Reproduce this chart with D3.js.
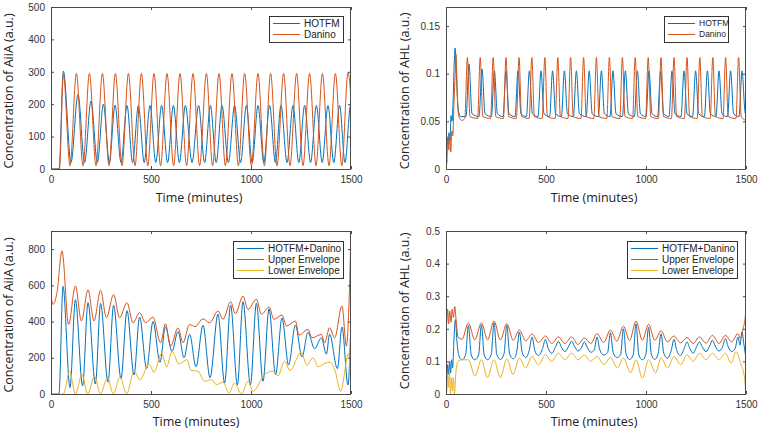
<!DOCTYPE html>
<html>
<head>
<meta charset="utf-8">
<script src="https://cdn.jsdelivr.net/npm/d3@7"></script>
<style>
  body { margin: 0; background: #fff; }
  svg { display: block; }
</style>
</head>
<body>
<svg width="760" height="431"></svg>
<script>
// x axis is the same everywhere
const timeTicks = [0, 500, 1000, 1500];

// top left: AiiA, single models  [minutes, a.u.]
const aiiaHotfm = [[0,0],[40,0],[62,302],[100,20],[135,230],[168,20],[200,210],[232,20],[262,200],[292,20],[320,197],[350,20],[380,196],[408,20],[437,196],[466,20],[495,196],[524,20],[553,196],[583,20],[612,196],[642,20],[672,196],[705,20],[738,196],[768,20],[797,196],[826,20],[855,196],[887,20],[918,196],[948,20],[977,196],[1006,20],[1035,196],[1064,20],[1093,196],[1122,20],[1150,196],[1180,20],[1210,196],[1239,20],[1268,196],[1298,20],[1327,196],[1356,20],[1385,196],[1414,20],[1443,196],[1470,20],[1498,196],[1500,195]];
const aiiaDanino = [[0,0],[42,0],[62,292],[95,10],[127,295],[160,10],[192,295],[225,10],[257,295],[290,10],[322,295],[355,10],[387,295],[420,10],[452,295],[484,10],[515,295],[548,10],[580,295],[613,10],[645,295],[678,10],[710,295],[743,10],[777,295],[808,10],[840,295],[872,10],[905,295],[937,10],[968,295],[1002,10],[1035,295],[1067,10],[1098,295],[1130,10],[1163,295],[1195,10],[1228,295],[1260,10],[1293,295],[1325,10],[1357,295],[1390,10],[1422,295],[1454,10],[1485,298],[1500,220]];

// top right: AHL, single models
const ahlHotfm = [[0,0.02],[5,0.034],[10,0.026],[15,0.038],[20,0.03],[25,0.056],[30,0.05],[36,0.075],[41,0.11],[46,0.127],[52,0.1],[60,0.065],[72,0.055],
  [100,0.055],[115,0.11],[130,0.058],[165,0.055],[180,0.105],[195,0.058],[227,0.055],[242,0.103],[257,0.058],[285,0.055],[300,0.103],[315,0.058],
  [345,0.055],[360,0.103],[375,0.058],[402,0.055],[417,0.103],[432,0.058],[460,0.055],[475,0.103],[490,0.058],[518,0.055],[533,0.103],[548,0.058],
  [577,0.055],[592,0.103],[607,0.058],[637,0.055],[652,0.103],[667,0.058],[701,0.055],[716,0.103],[731,0.058],[762,0.055],[777,0.103],[792,0.058],
  [820,0.055],[835,0.103],[850,0.058],[882,0.055],[897,0.103],[912,0.058],[942,0.055],[957,0.103],[972,0.058],[1000,0.055],[1015,0.103],[1030,0.058],
  [1058,0.055],[1073,0.103],[1088,0.058],[1115,0.055],[1130,0.103],[1145,0.058],[1175,0.055],[1190,0.103],[1205,0.058],[1233,0.055],[1248,0.103],[1263,0.058],
  [1292,0.055],[1307,0.103],[1322,0.058],[1350,0.055],[1365,0.103],[1380,0.058],[1408,0.055],[1423,0.103],[1438,0.058],[1465,0.055],[1480,0.103],[1495,0.06],[1500,0.057]];
const ahlDanino = [[0,0.03],[4,0.006],[9,0.032],[14,0.02],[19,0.036],[24,0.018],[29,0.04],[34,0.035],[40,0.07],[46,0.1],[50,0.12],[56,0.08],[64,0.055],[80,0.051],
  [94,0.053],[107,0.117],[120,0.055],[158,0.053],[171,0.117],[184,0.055],[223,0.053],[236,0.117],[249,0.055],[287,0.053],[300,0.117],[313,0.055],
  [352,0.053],[365,0.117],[378,0.055],[416,0.053],[429,0.117],[442,0.055],[481,0.053],[494,0.117],[507,0.055],[546,0.053],[559,0.117],[572,0.055],
  [610,0.053],[623,0.117],[636,0.055],[675,0.053],[688,0.117],[701,0.055],[739,0.053],[752,0.117],[765,0.055],[804,0.053],[817,0.117],[830,0.055],
  [869,0.053],[882,0.117],[895,0.055],[933,0.053],[946,0.117],[959,0.055],[998,0.053],[1011,0.117],[1024,0.055],[1062,0.053],[1075,0.117],[1088,0.055],
  [1127,0.053],[1140,0.117],[1153,0.055],[1192,0.053],[1205,0.117],[1218,0.055],[1256,0.053],[1269,0.117],[1282,0.055],[1321,0.053],[1334,0.117],[1347,0.055],
  [1385,0.053],[1398,0.117],[1411,0.055],[1450,0.053],[1463,0.117],[1476,0.055],[1500,0.051]];

// bottom left: AiiA, combined model with envelopes
const aiiaCombined = [[0,0],[40,0],[60,595],[95,35],[122,520],[158,45],[185,505],[222,55],[248,500],[285,65],[313,490],[350,85],[380,460],[415,105],[443,425],[478,140],[510,400],[545,175],[572,370],[605,235],[635,345],[665,200],[693,330],[725,150],[760,380],[795,90],[835,440],[868,60],[898,490],[932,50],[960,510],[997,50],[1027,500],[1060,70],[1090,470],[1123,107],[1155,420],[1188,160],[1222,380],[1255,205],[1285,340],[1318,250],[1352,310],[1377,220],[1393,330],[1432,140],[1455,370],[1485,50],[1500,420]];
const aiiaUpper = [[0,900],[1,540],[10,495],[30,560],[55,790],[88,384],[122,597],[152,403],[185,575],[215,403],[248,573],[277,421],[313,550],[343,421],[380,504],[410,393],[443,449],[473,393],[510,425],[548,283],[572,388],[598,264],[635,365],[660,283],[693,384],[720,372],[760,415],[793,393],[835,458],[860,412],[898,510],[922,443],[960,541],[985,467],[1027,523],[1052,440],[1090,480],[1115,412],[1155,436],[1177,375],[1222,403],[1240,325],[1285,357],[1305,310],[1352,329],[1368,283],[1393,366],[1418,310],[1455,486],[1477,264],[1490,500],[1500,900]];
const aiiaLower = [[55,0],[62,0],[93,125],[122,0],[155,107],[183,0],[218,98],[247,0],[282,90],[312,0],[345,95],[378,0],[415,125],[445,80],[490,165],[515,120],[553,225],[578,150],[605,235],[640,165],[680,190],[700,130],[735,126],[768,70],[802,80],[827,52],[860,65],[890,5],[918,60],[952,0],[985,70],[1010,15],[1068,107],[1110,126],[1135,100],[1168,181],[1195,130],[1250,230],[1280,160],[1310,200],[1335,150],[1370,170],[1395,175],[1420,130],[1448,15],[1488,225],[1500,0]];

// bottom right: AHL, combined model with envelopes
const ahlCombined = [[0,0.07],[4,0.045],[8,0.09],[13,0.06],[18,0.1],[23,0.065],[28,0.105],[33,0.08],[40,0.17],[47,0.228],[55,0.16],[64,0.118],[80,0.105],
  [98,0.12],[112,0.21],[126,0.12],[144,0.105],[163,0.12],[177,0.212],[191,0.12],[208,0.105],[226,0.121],[240,0.218],[254,0.121],[272,0.106],
  [290,0.123],[304,0.21],[318,0.123],[336,0.108],[353,0.127],[367,0.19],[381,0.127],[399,0.112],[416,0.133],[430,0.175],[444,0.133],[462,0.118],
  [483,0.14],[497,0.168],[511,0.14],[529,0.125],[548,0.145],[562,0.162],[576,0.145],[594,0.13],[614,0.147],[628,0.162],[642,0.147],[660,0.132],
  [678,0.143],[692,0.16],[706,0.143],[724,0.128],[741,0.135],[755,0.175],[769,0.135],[788,0.12],[808,0.127],[822,0.188],[836,0.127],[854,0.112],
  [873,0.121],[887,0.2],[901,0.121],[918,0.106],[936,0.12],[950,0.215],[964,0.12],[982,0.105],[999,0.121],[1013,0.205],[1027,0.121],[1044,0.106],
  [1061,0.125],[1075,0.185],[1089,0.125],[1107,0.11],[1126,0.133],[1140,0.168],[1154,0.133],[1172,0.118],[1191,0.14],[1205,0.16],[1219,0.14],[1236,0.125],
  [1253,0.145],[1267,0.16],[1281,0.145],[1300,0.13],[1318,0.147],[1332,0.165],[1346,0.147],[1365,0.132],[1383,0.145],[1397,0.17],[1411,0.145],[1428,0.13],
  [1446,0.14],[1460,0.175],[1470,0.15],[1480,0.19],[1490,0.15],[1500,0.11]];
const ahlUpper = [[0,0.41],[2,0.21],[8,0.26],[13,0.215],[19,0.255],[25,0.22],[31,0.26],[37,0.235],[44,0.268],[50,0.23],[60,0.175],[80,0.168],[112,0.218],[144,0.166],[177,0.218],[208,0.166],[240,0.224],[272,0.166],[304,0.216],[336,0.165],[367,0.196],[399,0.163],[430,0.184],[462,0.158],[497,0.178],[529,0.155],[562,0.175],[594,0.155],[628,0.175],[660,0.152],[692,0.172],[724,0.155],[755,0.185],[788,0.158],[822,0.196],[854,0.162],[887,0.208],[918,0.164],[950,0.224],[982,0.165],[1013,0.214],[1044,0.165],[1075,0.194],[1107,0.16],[1140,0.178],[1172,0.157],[1205,0.173],[1236,0.155],[1267,0.175],[1300,0.156],[1332,0.18],[1365,0.155],[1397,0.18],[1428,0.16],[1460,0.185],[1472,0.17],[1485,0.2],[1497,0.24],[1500,0.35]];
const ahlLower = [[0,0.06],[4,0.01],[8,0.06],[12,0.02],[17,0.07],[22,0],[27,0.05],[32,0.01],[37,0.05],[42,0],[50,0.07],[60,0.1],[80,0.105],[112,0.105],[145,0.055],[177,0.105],[207,0.05],[240,0.105],[272,0.05],[304,0.108],[335,0.06],[367,0.11],[398,0.08],[430,0.115],[462,0.09],[497,0.12],[528,0.1],[562,0.125],[595,0.105],[628,0.125],[660,0.105],[692,0.12],[722,0.1],[755,0.115],[790,0.09],[822,0.112],[857,0.08],[887,0.11],[923,0.065],[950,0.105],[982,0.048],[1013,0.105],[1048,0.065],[1075,0.11],[1108,0.08],[1140,0.115],[1173,0.09],[1205,0.12],[1235,0.1],[1267,0.125],[1300,0.105],[1332,0.125],[1365,0.105],[1397,0.125],[1425,0.095],[1450,0.13],[1475,0.09],[1490,0.06],[1500,0]];

// matlab default colours
const blue = "#0072BD", orange = "#D95319", yellow = "#EDB120";
const tickFont = '"Liberation Sans", Arial, sans-serif';
const labelFont = '"Open Sans", "Noto Sans", sans-serif';

const panels = [
  { x0: 51, x1: 351, y0: 7, y1: 169, yMax: 500, yTicks: [0, 100, 200, 300, 400, 500],
    ylabel: "Concentration of AiiA (a.u.)", ylx: 13, yly: 91, xlx: 199, xly: 202,
    series: [{ d: aiiaHotfm, c: blue, n: "HOTFM" }, { d: aiiaDanino, c: orange, n: "Danino" }],
    legend: { x: 269, y: 16, w: 74, h: 26, fs: 10 } },
  { x0: 446, x1: 746, y0: 7, y1: 169, yMax: 0.17, yTicks: [0, 0.05, 0.1, 0.15],
    ylabel: "Concentration of AHL (a.u.)", ylx: 409, yly: 91, xlx: 594, xly: 202,
    series: [{ d: ahlHotfm, c: blue, n: "HOTFM" }, { d: ahlDanino, c: orange, n: "Danino" }],
    legend: { x: 664, y: 16, w: 64, h: 26, fs: 8.5 } },
  { x0: 51, x1: 351, y0: 231, y1: 394, yMax: 900, yTicks: [0, 200, 400, 600, 800],
    ylabel: "Concentration of AiiA (a.u.)", ylx: 13, yly: 315, xlx: 196, xly: 426,
    series: [{ d: aiiaCombined, c: blue, n: "HOTFM+Danino" }, { d: aiiaUpper, c: orange, n: "Upper Envelope" }, { d: aiiaLower, c: yellow, n: "Lower Envelope" }],
    legend: { x: 233, y: 241, w: 110, h: 37, fs: 10 } },
  { x0: 446, x1: 746, y0: 231, y1: 394, yMax: 0.5, yTicks: [0, 0.1, 0.2, 0.3, 0.4, 0.5],
    ylabel: "Concentration of AHL (a.u.)", ylx: 409, yly: 311, xlx: 594, xly: 426,
    series: [{ d: ahlCombined, c: blue, n: "HOTFM+Danino" }, { d: ahlUpper, c: orange, n: "Upper Envelope" }, { d: ahlLower, c: yellow, n: "Lower Envelope" }],
    legend: { x: 627, y: 241, w: 110, h: 37, fs: 10 } }
];

const svg = d3.select("svg");
const defs = svg.append("defs");
const yFmt = d3.format("~g");
const xFmt = d3.format("d");

panels.forEach((p, i) => {
  const xs = d3.scaleLinear().domain([0, 1500]).range([p.x0, p.x1]);
  const ys = d3.scaleLinear().domain([0, p.yMax]).range([p.y1, p.y0]);
  const g = svg.append("g");

  defs.append("clipPath").attr("id", "clip" + i)
    .append("rect").attr("x", p.x0).attr("y", p.y0)
    .attr("width", p.x1 - p.x0).attr("height", p.y1 - p.y0);

  const line = d3.line()
    .x(d => xs(d[0]))
    .y(d => ys(d[1]))
    .curve(d3.curveMonotoneX);

  // lines, last one on top like matlab
  g.append("g").attr("clip-path", `url(#clip${i})`)
    .selectAll("path").data(p.series).enter().append("path")
    .attr("d", s => line(s.d))
    .attr("fill", "none")
    .attr("stroke", s => s.c)
    .attr("stroke-width", 1);

  // ticks inside on all four sides
  const axB = g.append("g").attr("transform", `translate(0,${p.y1})`)
    .call(d3.axisBottom(xs).tickValues(timeTicks).tickSize(-3).tickSizeOuter(0).tickPadding(7).tickFormat(xFmt));
  const axT = g.append("g").attr("transform", `translate(0,${p.y0})`)
    .call(d3.axisTop(xs).tickValues(timeTicks).tickSize(-3).tickSizeOuter(0).tickFormat(""));
  const axL = g.append("g").attr("transform", `translate(${p.x0},0)`)
    .call(d3.axisLeft(ys).tickValues(p.yTicks).tickSize(-3).tickSizeOuter(0).tickPadding(6).tickFormat(yFmt));
  const axR = g.append("g").attr("transform", `translate(${p.x1},0)`)
    .call(d3.axisRight(ys).tickValues(p.yTicks).tickSize(-3).tickSizeOuter(0).tickFormat(""));
  [axB, axT, axL, axR].forEach(a => {
    a.select(".domain").remove();
    a.selectAll(".tick line").attr("stroke", "#4a4a4a");
    a.selectAll(".tick text").attr("fill", "#333")
      .style("font-family", tickFont).style("font-size", "10px");
  });

  g.append("rect")
    .attr("x", p.x0 + 0.5).attr("y", p.y0 + 0.5)
    .attr("width", p.x1 - p.x0 - 1).attr("height", p.y1 - p.y0)
    .attr("fill", "none").attr("stroke", "#4a4a4a").attr("stroke-width", 1);

  // axis titles
  g.append("text")
    .attr("x", p.xlx).attr("y", p.xly)
    .attr("text-anchor", "middle")
    .style("font-family", labelFont).style("font-size", "12.5px")
    .attr("fill", "#222")
    .text("Time (minutes)");
  g.append("text")
    .attr("transform", `translate(${p.ylx},${p.yly}) rotate(-90)`)
    .attr("text-anchor", "middle")
    .style("font-family", labelFont).style("font-size", "12.5px")
    .attr("fill", "#222")
    .text(p.ylabel);

  // legend
  const lg = g.append("g").attr("transform", `translate(${p.legend.x},${p.legend.y})`);
  lg.append("rect")
    .attr("x", 0.5).attr("y", 0.5)
    .attr("width", p.legend.w).attr("height", p.legend.h)
    .attr("fill", "#fff").attr("stroke", "#333").attr("stroke-width", 1);
  const rows = lg.selectAll("g.row").data(p.series).enter().append("g")
    .attr("class", "row")
    .attr("transform", (s, k) => `translate(0,${7.5 + k * 11})`);
  rows.append("line")
    .attr("x1", 4).attr("x2", 31)
    .attr("stroke", s => s.c).attr("stroke-width", 1);
  rows.append("text")
    .attr("x", 35).attr("dy", "0.35em")
    .style("font-family", tickFont).style("font-size", p.legend.fs + "px")
    .attr("fill", "#222")
    .text(s => s.n);
});
</script>
</body>
</html>
